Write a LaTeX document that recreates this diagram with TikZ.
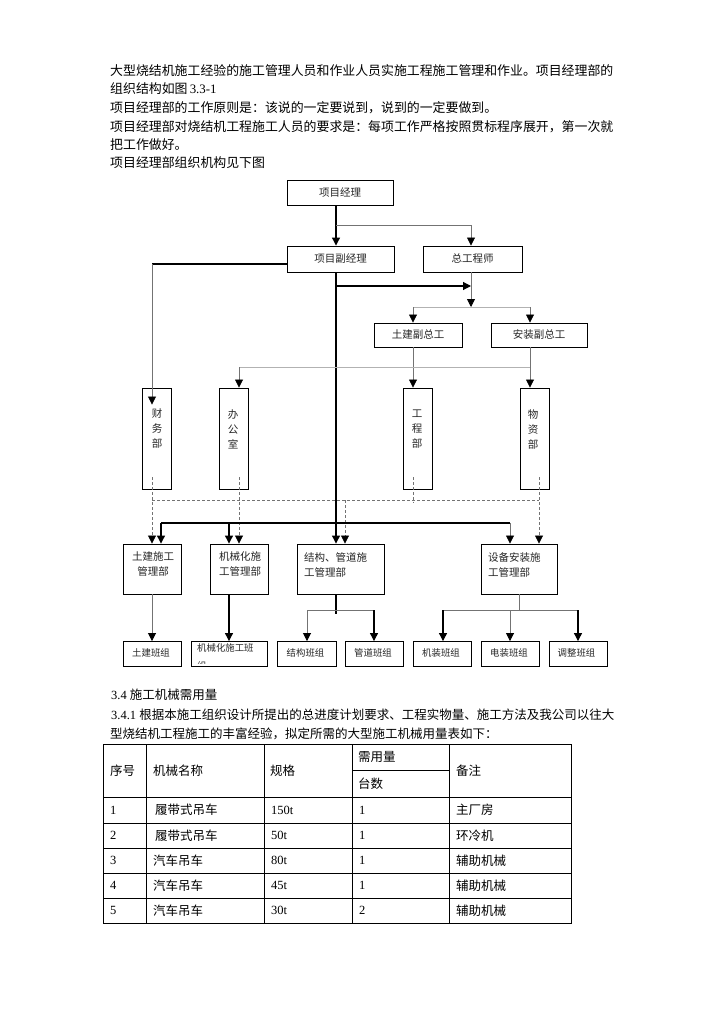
\documentclass[tikz,border=0pt]{standalone}
\usepackage{fontspec}
\setmainfont{Noto Sans CJK SC}
\newfontfamily\lat{Liberation Serif}
\usetikzlibrary{arrows.meta,calc}
\tikzset{
  para/.style={anchor=west, inner sep=0pt, font=\fontsize{12.9}{15}\selectfont},
  para2/.style={anchor=west, inner sep=0pt, font=\fontsize{12.5}{15}\selectfont},
  box/.style={draw=black, line width=0.9pt, inner sep=0pt, text=black!85, font=\fontsize{10.5}{15}\selectfont},
  btxt/.style={inner sep=0pt, text=black!85, font=\fontsize{10.5}{15}\selectfont},
  gtxt/.style={anchor=west, inner sep=0pt, text=black!85, font=\fontsize{9.4}{14}\selectfont},
  tip/.style={-{Triangle[width=8pt,length=8pt,color=black]}},
  blk/.style={line width=1.1pt, draw=black},
  gry/.style={line width=0.8pt, draw=black!55},
  lgry/.style={line width=0.8pt, draw=black!30},
  dsh/.style={line width=0.8pt, draw=black!55, dash pattern=on 3pt off 2pt},
  tbl/.style={line width=0.9pt, draw=black},
  cell/.style={anchor=west, inner sep=0pt, font=\fontsize{12.5}{15}\selectfont}
}
\begin{document}
\begin{tikzpicture}[x=1pt,y=-1pt]
\useasboundingbox[fill=white] (0,0) rectangle (724,1024);

% ---------- paragraph ----------
\node[para] (p1) at (110,70.5) {大型烧结机施工经验的施工管理人员和作业人员实施工程施工管理和作业。项目经理部的};
\node[para] (p2) at (110,88.5) {组织结构如图\,{\lat 3.3-1}};
\node[para] (p3) at (110,107.5) {项目经理部的工作原则是：该说的一定要说到，说到的一定要做到。};
\node[para] (p4) at (110,126.5) {项目经理部对烧结机工程施工人员的要求是：每项工作严格按照贯标程序展开，第一次就};
\node[para] (p5) at (110,145) {把工作做好。};
\node[para] (p6) at (110,163) {项目经理部组织机构见下图};

% ---------- org chart boxes ----------
\node[box, minimum width=106pt, minimum height=25pt] (pm) at (340,192.5) {项目经理};
\node[box, minimum width=107pt, minimum height=26pt] (dpm) at (340.5,259) {项目副经理};
\node[box, minimum width=99pt, minimum height=26pt] (ce) at (472.5,259) {总工程师};
\node[box, minimum width=88pt, minimum height=24pt] (cvd) at (418,335) {土建副总工};
\node[box, minimum width=96pt, minimum height=24pt] (ivd) at (539,335) {安装副总工};

\node[box, minimum width=29pt, minimum height=101pt] (fin) at (156.5,438.5) {};
\node[box, minimum width=29pt, minimum height=101pt] (off) at (233.5,438.5) {};
\node[box, minimum width=29pt, minimum height=101pt] (eng) at (417.5,438.5) {};
\node[box, minimum width=29pt, minimum height=101pt] (mat) at (534.5,438.5) {};
\node[btxt, align=center] (finT) at (157,429) {财\\务\\部};
\node[btxt, align=center] (offT) at (233,429) {办\\公\\室};
\node[btxt, align=center] (engT) at (417,429) {工\\程\\部};
\node[btxt, align=center] (matT) at (533,429) {物\\资\\部};

\node[box, minimum width=58pt, minimum height=50pt] (cm) at (152,569) {};
\node[box, minimum width=58pt, minimum height=50pt] (mm) at (239,569) {};
\node[box, minimum width=87pt, minimum height=50pt] (sm) at (340.5,569) {};
\node[box, minimum width=76pt, minimum height=50pt] (em) at (519,569) {};
\node[btxt, align=center] (cmT) at (153,564.5) {土建施工\\管理部};
\node[btxt, align=left, anchor=west] (mmT) at (219,564.5) {机械化施\\工管理部};
\node[btxt, align=left, anchor=west] (smT) at (304,564.5) {结构、管道施\\工管理部};
\node[btxt, align=left, anchor=west] (emT) at (488,564.5) {设备安装施\\工管理部};

\node[box, minimum width=58pt, minimum height=25pt] (g1) at (152,654) {};
\node[box, minimum width=76pt, minimum height=25pt] (g2) at (229,654) {};
\node[box, minimum width=59pt, minimum height=25pt] (g3) at (306.5,654) {};
\node[box, minimum width=58pt, minimum height=25pt] (g4) at (374,654) {};
\node[box, minimum width=58pt, minimum height=25pt] (g5) at (442,654) {};
\node[box, minimum width=58pt, minimum height=25pt] (g6) at (510,654) {};
\node[box, minimum width=58pt, minimum height=25pt] (g7) at (578,654) {};
\node[gtxt] (g1T) at (132,652.5) {土建班组};
\node[gtxt] (g2T) at (197,648) {机械化施工班};
\begin{scope}
  \clip (192,642) rectangle (266,663.5);
  \node[gtxt] (g2U) at (197,666) {组};
\end{scope}
\node[gtxt] (g3T) at (286.5,652.5) {结构班组};
\node[gtxt] (g4T) at (354,652.5) {管道班组};
\node[gtxt] (g5T) at (422,652.5) {机装班组};
\node[gtxt] (g6T) at (490,652.5) {电装班组};
\node[gtxt] (g7T) at (557.5,652.5) {调整班组};

% ---------- column coordinates ----------
\coordinate (x152) at (152,0);
\coordinate (x161) at (161,0);
\coordinate (x229) at (229,0);
\coordinate (x239) at (239,0);
\coordinate (x307) at (307,0);
\coordinate (x336) at (336,0);
\coordinate (x345) at (345,0);
\coordinate (x374) at (374,0);
\coordinate (x413) at (413,0);
\coordinate (x443) at (443,0);
\coordinate (x471) at (471,0);
\coordinate (x510) at (510,0);
\coordinate (x519) at (519,0);
\coordinate (x530) at (530,0);
\coordinate (x539) at (539,0);
\coordinate (x578) at (578,0);

% ---------- connectors (upper) ----------
\draw[blk,tip] (pm.south -| x336) -- (dpm.north -| x336);
\coordinate (b1) at (336,225);
\draw[gry,tip] (b1) -| (ce.north -| x471);
\coordinate (l1) at (152,264);
\draw[blk] (dpm.west |- l1) -- (l1);
\draw[gry,tip] (l1) -- ($(fin.north -| x152)+(0,17)$);
\draw[blk,tip] (dpm.south -| x336) -- (sm.north -| x336);
\coordinate (b3) at (336,286);
\coordinate (b4) at (471,286);
\draw[blk,tip] (b3) -- (b4);
\coordinate (b5) at (471,307);
\draw[gry,tip] (ce.south -| x471) -- (b5);
\coordinate (b6) at (413,307);
\coordinate (b7) at (530,307);
\draw[lgry] (b6) -- (b7);
\draw[gry,tip] (b6) -- (cvd.north -| x413);
\draw[gry,tip] (b7) -- (ivd.north -| x530);
\draw[gry,tip] (cvd.south -| x413) -- (eng.north -| x413);
\draw[gry,tip] (ivd.south -| x530) -- (mat.north -| x530);
\coordinate (b8) at (530,367);
\coordinate (b9) at (239,367);
\draw[lgry] (b8) -- (b9);
\draw[gry,tip] (b9) -- (off.north -| x239);

% ---------- dashed links ----------
\coordinate (df) at (152,477);
\coordinate (do) at (239,477);
\coordinate (de) at (413,477);
\coordinate (de2) at (413,503);
\coordinate (dm) at (539,477);
\coordinate (dh1) at (152,500);
\coordinate (dh2) at (539,500);
\coordinate (dc) at (345,500);
\draw[dsh,tip] (df) -- (cm.north -| x152);
\draw[dsh,tip] (do) -- (mm.north -| x239);
\draw[dsh] (de) -- (de2);
\draw[dsh,tip] (dm) -- (em.north -| x539);
\draw[dsh] (dh1) -- (dh2);
\draw[dsh,tip] (dc) -- (sm.north -| x345);

% ---------- solid bus ----------
\coordinate (s1) at (161,523);
\coordinate (s2) at (510,523);
\coordinate (s3) at (229,523);
\draw[blk] (s1) -- (s2);
\draw[blk,tip] (s1) -- (cm.north -| x161);
\draw[blk,tip] (s3) -- (mm.north -| x229);
\draw[gry,tip] (s2) -- (em.north -| x510);

% ---------- lower connectors ----------
\draw[gry,tip] (cm.south -| x152) -- (g1.north -| x152);
\draw[blk,tip] (mm.south -| x229) -- (g2.north -| x229);
\coordinate (t1) at (336,614);
\coordinate (t2) at (307,610);
\coordinate (t3) at (374,610);
\draw[blk] (sm.south -| x336) -- (t1);
\draw[gry] (t2) -- (t3);
\draw[gry,tip] (t2) -- (g3.north -| x307);
\draw[blk,tip] (t3) -- (g4.north -| x374);
\coordinate (u1) at (519,610);
\coordinate (u2) at (443,610);
\coordinate (u3) at (578,610);
\coordinate (u4) at (510,610);
\draw[gry] (em.south -| x519) -- (u1);
\draw[gry] (u2) -- (u3);
\draw[blk,tip] (u2) -- (g5.north -| x443);
\draw[gry,tip] (u4) -- (g6.north -| x510);
\draw[blk,tip] (u3) -- (g7.north -| x578);

% ---------- section 3.4 ----------
\node[para2] (h1) at (111,695) {{\lat 3.4 }施工机械需用量};
\node[para2] (h2) at (111,715) {{\lat 3.4.1 }根据本施工组织设计所提出的总进度计划要求、工程实物量、施工方法及我公司以往大};
\node[para2] (h3) at (110,733.5) {型烧结机工程施工的丰富经验，拟定所需的大型施工机械用量表如下：};

% ---------- table ----------
\draw[tbl] (103,744) rectangle (571,923);
\foreach \yy in {797,823,848,873,898} { \draw[tbl] (103,\yy) -- (571,\yy); }
\draw[tbl] (352,770) -- (449,770);
\foreach \xx in {146,264,352,449} { \draw[tbl] (\xx,744) -- (\xx,923); }

\node[cell] (hc1) at (110,770.5) {序号};
\node[cell] (hc2) at (153,770.5) {机械名称};
\node[cell] (hc3) at (270,770.5) {规格};
\node[cell] (hc4) at (358,757) {需用量};
\node[cell] (hc5) at (358,783.5) {台数};
\node[cell] (hc6) at (456,770.5) {备注};

\node[cell] (r1a) at (110,810) {\lat 1};
\node[cell] (r1b) at (155,810) {履带式吊车};
\node[cell] (r1c) at (271,810) {\lat 150t};
\node[cell] (r1d) at (359,810) {\lat 1};
\node[cell] (r1e) at (456,810) {主厂房};

\node[cell] (r2a) at (110,835.5) {\lat 2};
\node[cell] (r2b) at (155,835.5) {履带式吊车};
\node[cell] (r2c) at (271,835.5) {\lat 50t};
\node[cell] (r2d) at (359,835.5) {\lat 1};
\node[cell] (r2e) at (456,835.5) {环冷机};

\node[cell] (r3a) at (110,860.5) {\lat 3};
\node[cell] (r3b) at (153,860.5) {汽车吊车};
\node[cell] (r3c) at (271,860.5) {\lat 80t};
\node[cell] (r3d) at (359,860.5) {\lat 1};
\node[cell] (r3e) at (456,860.5) {辅助机械};

\node[cell] (r4a) at (110,885.5) {\lat 4};
\node[cell] (r4b) at (153,885.5) {汽车吊车};
\node[cell] (r4c) at (271,885.5) {\lat 45t};
\node[cell] (r4d) at (359,885.5) {\lat 1};
\node[cell] (r4e) at (456,885.5) {辅助机械};

\node[cell] (r5a) at (110,910.5) {\lat 5};
\node[cell] (r5b) at (153,910.5) {汽车吊车};
\node[cell] (r5c) at (271,910.5) {\lat 30t};
\node[cell] (r5d) at (359,910.5) {\lat 2};
\node[cell] (r5e) at (456,910.5) {辅助机械};
\end{tikzpicture}
\end{document}
